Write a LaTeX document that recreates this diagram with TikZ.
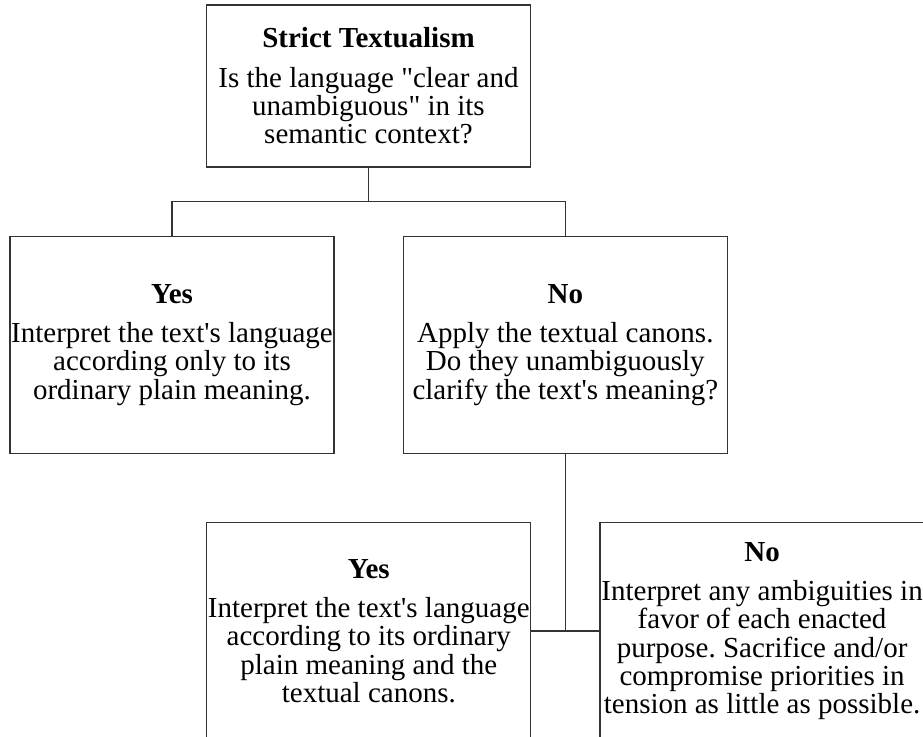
\documentclass[tikz,border=0pt]{standalone}
\usepackage{fontspec}
\setmainfont{Liberation Serif}
\usepackage{tikz}
\usetikzlibrary{positioning}
\newcommand{\apos}{\textquotesingle}
\newcommand{\dq}{\textquotedbl}
\frenchspacing

\begin{document}
\begin{tikzpicture}[
  box/.style={draw=black!80, line width=1.3pt, minimum width=324pt, minimum height=217pt,
    inner sep=1pt, align=center, font=\fontsize{29pt}{28.3pt}\selectfont},
  link/.style={draw=black!80, line width=1.3pt}]
\useasboundingbox (0,0) rectangle (923pt,-736pt);
\fill[white] (0,0) rectangle (923pt,-736pt);
\clip (0,0) rectangle (923pt,-736pt);
\node[box, minimum height=162pt] (strict) at (368.5pt,-86pt) {\textbf{Strict Textualism}\\[11pt] Is the language \dq clear and\\ unambiguous\dq{} in its\\ semantic context?};
\node[box, below=68pt of strict, xshift=-196.5pt] (yes1) {\textbf{Yes}\\[11pt] Interpret the text\apos s language\\ according only to its\\ ordinary plain meaning.};
\node[box, right=68pt of yes1] (no1) {\textbf{No}\\[11pt] Apply the textual canons.\\ Do they unambiguously\\ clarify the text\apos s meaning?};
\node[box, below=68pt of no1, xshift=-196.5pt] (yes2) {\textbf{Yes}\\[11pt] Interpret the text\apos s language\\ according to its ordinary\\ plain meaning and the\\ textual canons.};
\node[box, right=68pt of yes2] (no2) {\textbf{No}\\[11pt] Interpret any ambiguities in\\ favor of each enacted\\ purpose. Sacrifice and/or\\ compromise priorities in\\ tension as little as possible.};
\coordinate (fork1) at ([yshift=-34pt]strict.south);
\draw[link] (strict.south) -- (fork1);
\draw[link] (yes1.north) |- (fork1) -| (no1.north);
\draw[link] (no1.south) -- (no1.south |- yes2.east);
\draw[link] (yes2.east) -- (no2.west);
\end{tikzpicture}
\end{document}
